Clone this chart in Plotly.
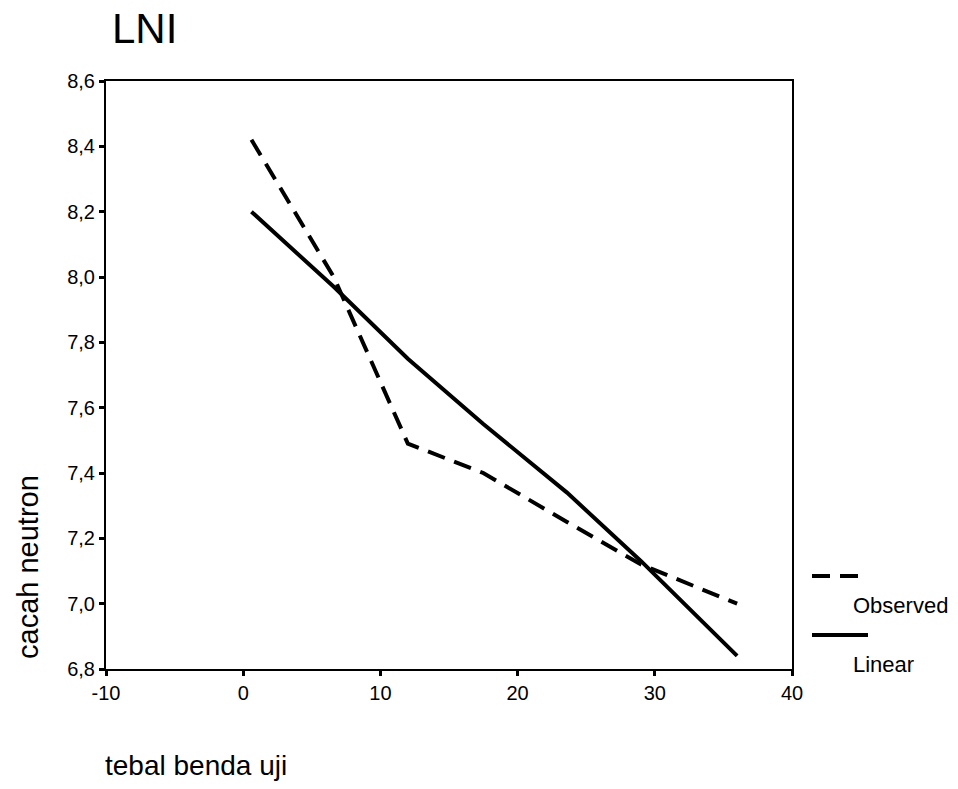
import plotly.graph_objects as go

# Data
thickness = [0.6, 6.6, 12.0, 17.5, 23.6, 29.0, 36.0]
observed = [8.42, 8.00, 7.49, 7.40, 7.25, 7.12, 7.00]
linear = [8.20, 7.97, 7.75, 7.55, 7.34, 7.13, 6.84]

x_ticks = [-10, 0, 10, 20, 30, 40]
x_ticktext = ["-10", "0", "10", "20", "30", "40"]
y_ticks = [6.8, 7.0, 7.2, 7.4, 7.6, 7.8, 8.0, 8.2, 8.4, 8.6]
y_ticktext = ["6,8", "7,0", "7,2", "7,4", "7,6", "7,8", "8,0", "8,2", "8,4", "8,6"]

W, H = 958, 789
L, R, T, B = 106, 792, 81, 669  # plot area in pixels


def px(xp):
    return (xp - L) / (R - L)


def py(yp):
    return (B - yp) / (B - T)


FONT = "Liberation Sans, Arial, sans-serif"

fig = go.Figure()
fig.add_trace(go.Scatter(x=thickness, y=observed, mode="lines", name="Observed",
                         line=dict(color="black", width=4, dash="18px,10px")))
fig.add_trace(go.Scatter(x=thickness, y=linear, mode="lines", name="Linear",
                         line=dict(color="black", width=4)))

fig.update_layout(
    width=W, height=H,
    margin=dict(l=L, r=W - R, t=T, b=H - B),
    paper_bgcolor="white", plot_bgcolor="white",
    showlegend=False,
    font=dict(family=FONT, color="black", size=20),
    title=dict(text="LNI", x=112 / W, xanchor="left", xref="container",
               y=1 - 28 / H, yanchor="middle", yref="container",
               font=dict(size=42, family=FONT, color="black")),
)
fig.update_xaxes(range=[-10, 40], tickvals=x_ticks, ticktext=x_ticktext,
                 showgrid=False, zeroline=False, showline=True, mirror=True,
                 linecolor="black", linewidth=2, ticks="outside", ticklen=5,
                 tickwidth=3, tickcolor="black", tickfont=dict(size=20))
fig.update_yaxes(range=[6.8, 8.6], tickvals=y_ticks, ticktext=y_ticktext,
                 showgrid=False, zeroline=False, showline=True, mirror=True,
                 linecolor="black", linewidth=2, ticks="outside", ticklen=5,
                 tickwidth=3, tickcolor="black", tickfont=dict(size=20))

# axis titles
fig.add_annotation(text="cacah neutron", xref="paper", yref="paper",
                   x=px(28), y=py(567), textangle=-90, showarrow=False,
                   xanchor="center", yanchor="middle", font=dict(size=29))
fig.add_annotation(text="tebal benda uji", xref="paper", yref="paper",
                   x=px(103), y=py(765), showarrow=False,
                   xanchor="left", yanchor="middle", font=dict(size=28))

# custom legend
fig.add_shape(type="line", xref="paper", yref="paper",
              x0=px(812), x1=px(868), y0=py(576), y1=py(576),
              line=dict(color="black", width=4, dash="18px,10px"))
fig.add_annotation(text="Observed", xref="paper", yref="paper",
                   x=px(851), y=py(605), showarrow=False,
                   xanchor="left", yanchor="middle", font=dict(size=22))
fig.add_shape(type="line", xref="paper", yref="paper",
              x0=px(812), x1=px(868), y0=py(635), y1=py(635),
              line=dict(color="black", width=4))
fig.add_annotation(text="Linear", xref="paper", yref="paper",
                   x=px(851), y=py(664), showarrow=False,
                   xanchor="left", yanchor="middle", font=dict(size=22))

fig.write_html("out.html")
